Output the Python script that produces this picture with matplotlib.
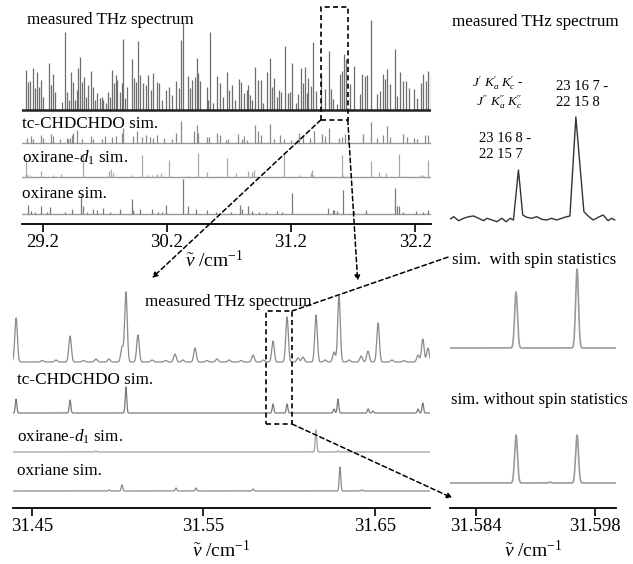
import numpy as np
import matplotlib
matplotlib.use("Agg")
import matplotlib.pyplot as plt
from matplotlib.patches import Rectangle, ConnectionPatch

plt.rcParams['font.family'] = ['Liberation Serif', 'DejaVu Serif']
plt.rcParams['mathtext.fontset'] = 'custom'
plt.rcParams['mathtext.rm'] = 'Liberation Serif'
plt.rcParams['mathtext.it'] = 'Liberation Serif:italic'
plt.rcParams['mathtext.bf'] = 'Liberation Serif:bold'

# ---------------- overview 29.0 - 32.3 cm-1 (stick spectra) ----------------
meas_pos = [29.063, 29.081, 29.095, 29.117, 29.135, 29.149, 29.170, 29.184, 29.203, 29.251,
            29.262, 29.278, 29.294, 29.351, 29.377, 29.396, 29.410, 29.423, 29.439, 29.458,
            29.472, 29.485, 29.501, 29.515, 29.531, 29.547, 29.565, 29.585, 29.601, 29.619,
            29.638, 29.660, 29.676, 29.686, 29.706, 29.727, 29.740, 29.759, 29.773, 29.786,
            29.799, 29.821, 29.835, 29.843, 29.861, 29.880, 29.915, 29.934, 29.950, 29.969,
            29.982, 30.009, 30.031, 30.049, 30.071, 30.090, 30.117, 30.135, 30.162, 30.190,
            30.216, 30.238, 30.270, 30.297, 30.313, 30.329, 30.367, 30.385, 30.399, 30.426,
            30.440, 30.452, 30.466, 30.520, 30.533, 30.549, 30.573, 30.601, 30.627, 30.654,
            30.684, 30.700, 30.727, 30.748, 30.781, 30.797, 30.823, 30.843, 30.856, 30.872,
            30.888, 30.910, 30.936, 30.958, 30.977, 31.004, 31.028, 31.044, 31.065, 31.085,
            31.103, 31.119, 31.152, 31.178, 31.192, 31.206, 31.240, 31.259, 31.278, 31.294,
            31.313, 31.331, 31.340, 31.359, 31.380, 31.402, 31.440, 31.474, 31.506, 31.520,
            31.541, 31.573, 31.595, 31.609, 31.627, 31.644, 31.676, 31.711, 31.756, 31.775,
            31.797, 31.815, 31.843, 31.896, 31.918, 31.944, 31.958, 31.977, 31.998, 32.039,
            32.057, 32.079, 32.106, 32.127, 32.154, 32.192, 32.218, 32.246, 32.262, 32.289,
            32.307, 32.327]
meas_int = [40, 28, 29, 42, 22, 38, 23, 30, 13, 47,
            25, 36, 18, 8, 78, 18, 10, 38, 28, 10,
            20, 42, 53, 28, 33, 13, 25, 39, 23, 10,
            17, 12, 13, 10, 7, 18, 13, 40, 27, 35,
            30, 18, 27, 71, 12, 23, 51, 32, 28, 69,
            35, 27, 25, 35, 20, 37, 28, 27, 10, 20,
            23, 15, 29, 22, 70, 87, 34, 22, 30, 33,
            52, 37, 29, 23, 10, 78, 7, 34, 27, 13,
            38, 20, 25, 10, 31, 28, 17, 20, 25, 15,
            10, 43, 30, 30, 7, 38, 52, 23, 32, 13,
            20, 18, 64, 17, 18, 47, 7, 16, 42, 27,
            43, 17, 32, 24, 68, 19, 36, 21, 59, 21,
            11, 6, 36, 39, 56, 51, 26, 44, 16, 36,
            34, 35, 90, 16, 19, 36, 31, 41, 26, 61,
            14, 38, 29, 29, 22, 21, 12, 27, 36, 29,
            39, 37]

tc_pos = [29.069, 29.101, 29.122, 29.181, 29.203, 29.262, 29.278, 29.337, 29.391, 29.404,
          29.418, 29.431, 29.445, 29.477, 29.512, 29.585, 29.601, 29.673, 29.700, 29.754,
          29.789, 29.835, 29.848, 29.928, 29.956, 29.996, 30.031, 30.063, 30.090, 30.117,
          30.178, 30.238, 30.270, 30.313, 30.420, 30.440, 30.452, 30.520, 30.539, 30.601,
          30.627, 30.673, 30.689, 30.775, 30.807, 30.823, 30.843, 30.910, 30.936, 30.958,
          31.031, 31.065, 31.111, 31.146, 31.200, 31.267, 31.299, 31.353, 31.385, 31.448,
          31.474, 31.509, 31.590, 31.609, 31.635, 31.662, 31.778, 31.843, 31.896, 31.944,
          31.977, 31.998, 32.106, 32.133, 32.192, 32.214, 32.281, 32.307]
tc_int = [5, 7, 4, 8, 5, 9, 7, 4, 5, 4,
          5, 8, 10, 13, 4, 7, 4, 4, 7, 6,
          7, 10, 15, 7, 12, 6, 8, 6, 5, 8,
          5, 4, 10, 22, 12, 18, 10, 6, 6, 10,
          8, 3, 4, 9, 4, 7, 3, 18, 12, 8,
          19, 4, 8, 4, 3, 10, 7, 5, 12, 9,
          7, 15, 5, 6, 9, 4, 9, 21, 5, 8,
          17, 6, 9, 6, 5, 4, 8, 8]

d1_pos = [29.063, 29.073, 29.095, 29.181, 29.283, 29.343, 29.525, 29.735, 29.746, 29.767,
          29.915, 29.996, 30.049, 30.077, 30.117, 30.152, 30.216, 30.367, 30.447, 30.525,
          30.614, 30.686, 30.756, 30.797, 30.856, 30.888, 30.899, 31.146, 31.273, 31.359,
          31.367, 31.375, 31.609, 31.622, 31.843, 31.912, 31.966, 32.073, 32.119, 32.246,
          32.267, 32.307]
d1_int = [19, 3, 2, 6, 2, 3, 22, 6, 8, 4,
          2, 22, 2, 2, 3, 4, 17, 1.3, 24, 5,
          1.3, 19, 4, 1.3, 6, 5, 7, 23, 2, 4,
          7, 2, 22, 2, 16, 5, 4, 23, 1.3, 2,
          2, 17]

ox_pos = [29.081, 29.101, 29.135, 29.181, 29.230, 29.256, 29.377, 29.431, 29.504, 29.520,
          29.552, 29.601, 29.638, 29.681, 29.740, 29.821, 29.915, 29.928, 29.982, 30.077,
          30.130, 30.157, 30.190, 30.331, 30.372, 30.431, 30.520, 30.593, 30.716, 30.789,
          30.807, 30.851, 30.888, 30.942, 30.998, 31.085, 31.125, 31.212, 31.501, 31.536,
          31.549, 31.573, 31.622, 31.708, 31.805, 32.039, 32.057, 32.073, 32.106, 32.208,
          32.262, 32.307]
ox_int = [9, 3, 2, 8, 2, 7, 1.3, 5, 19, 8,
          2, 5, 4, 6, 2, 5, 15, 4, 5, 5,
          1.3, 2, 9, 35, 8, 5, 4, 2, 2, 9,
          5, 8, 3, 1.3, 1.3, 3, 1.3, 21, 6, 4,
          4, 3, 24, 3, 4, 26, 8, 8, 2, 3,
          1.3, 4]

# ---------------- zoom 31.44 - 31.68 cm-1 ----------------
zm_meas_pos = [31.4407, 31.4560, 31.4640, 31.4722, 31.4800, 31.4873, 31.4949, 31.5025, 31.5048,
               31.5118, 31.5200, 31.5280, 31.5334, 31.5380, 31.5451, 31.5520, 31.5579, 31.5650,
               31.5720, 31.5790, 31.5850, 31.5906, 31.5988, 31.6052, 31.6081, 31.6157, 31.6210,
               31.6262, 31.6291, 31.6350, 31.6420, 31.6460, 31.6519, 31.6600, 31.6670, 31.6752,
               31.6780, 31.6810]
zm_meas_int = [44, 1.5, 2, 26, 1.5, 3, 3, 15, 70,
               27, 2, 1.5, 8, 2, 14, 1.5, 3, 2,
               1.5, 7, 2, 21, 45, 4, 5, 47, 2,
               10, 66, 2, 6, 11, 39, 2, 1.5, 7,
               23, 14]
zm_tc_pos = [31.4407, 31.4722, 31.5048, 31.5906, 31.5988, 31.6262, 31.6285, 31.6461, 31.6489,
             31.6752, 31.6780]
zm_tc_int = [14, 13, 26, 9, 9, 4, 14, 4, 2, 4, 10]
zm_d1_pos = [31.4872, 31.6157, 31.6285]
zm_d1_int = [1, 22, 1]
zm_ox_pos = [31.4949, 31.5025, 31.5340, 31.5457, 31.5790, 31.6297, 31.6426]
zm_ox_int = [1, 6, 3, 3, 2, 24, 1]

# ---------------- detail 31.581 - 31.600 cm-1 ----------------
det_meas_x = [31.58074, 31.58133, 31.58192, 31.58251, 31.58310, 31.58369, 31.58428, 31.58486,
              31.58526, 31.58585, 31.58644, 31.58702, 31.58753, 31.58800, 31.58839, 31.58898,
              31.58949, 31.58996, 31.59055, 31.59114, 31.59173, 31.59232, 31.59291, 31.59349,
              31.59408, 31.59467, 31.59506, 31.59576, 31.59671, 31.59721, 31.59780, 31.59839,
              31.59898, 31.59957, 31.59996, 31.60035]
det_meas_y = [-2, 1.3, -2.7, -0.3, 1.3, 2, -0.3, -2.7,
              -0.3, -2, -3.7, -0.3, -3.7, -0.3, -2, 48,
              3, 0.7, -0.3, 1.3, -1.3, -2, -0.3, -2,
              -0.3, 1.3, 2, 101, 6.3, 2, -2, 0.7,
              3, -2.7, -0.3, -2]
det_pos = [31.5887, 31.5927, 31.5959]
det_spin = [56, 0, 79]
det_nospin = [48, 0.8, 48]

overview_ticks = [29.2, 30.2, 31.2, 32.2]
zoom_ticks = [31.45, 31.55, 31.65]
detail_ticks = [31.584, 31.598]

W, H = 633, 564
fig = plt.figure(figsize=(W / 100, H / 100), dpi=100)


def px_axes(x0, y0, x1, y1):
    return fig.add_axes([x0 / W, 1 - y1 / H, (x1 - x0) / W, (y1 - y0) / H])


def ftext(x, y, s, **kw):
    kw.setdefault('fontsize', 12.3)
    kw.setdefault('va', 'center')
    kw.setdefault('ha', 'left')
    fig.text(x / W, 1 - y / H, s, **kw)


def style(ax, ticks, labels):
    for sp in ['top', 'left', 'right']:
        ax.spines[sp].set_visible(False)
    ax.spines['bottom'].set_linewidth(1.3)
    ax.set_yticks([])
    ax.set_xticks(ticks)
    ax.set_xticklabels(labels)
    ax.tick_params(axis='x', direction='out', length=6, width=1.2, labelsize=13.5, pad=1)
    ax.patch.set_alpha(0)


def profile(x, pos, inten, sig):
    x = np.asarray(x)[:, None]
    return (np.asarray(inten)[None, :] *
            np.exp(-(x - np.asarray(pos)[None, :]) ** 2 / (2 * sig ** 2))).sum(axis=1)


xlabel = r'$\tilde{\nu}$ /cm$^{-1}$'

# ---------------- overview axes ----------------
ax1 = px_axes(22, 5, 431, 224)
ax1.set_xlim(29.031, 32.329)
ax1.set_ylim(0, 219)
style(ax1, overview_ticks, [f'{t:.1f}' for t in overview_ticks])
b_meas, b_tc, b_d1, b_ox = 114, 81.5, 46.7, 10.3
ax1.vlines(meas_pos, b_meas, b_meas + np.array(meas_int), color='#6e6e6e', lw=0.9)
ax1.axhline(b_meas, color='#222222', lw=1.8)
for base, pos, inten, col in [(b_tc, tc_pos, tc_int, '#8a8a8a'),
                              (b_d1, d1_pos, d1_int, '#a8a8a8'),
                              (b_ox, ox_pos, ox_int, '#7a7a7a')]:
    ax1.axhline(base, color='#9a9a9a', lw=1.0)
    ax1.vlines(pos, base, base + np.array(inten), color=col, lw=0.9)
ax1.set_xlabel(xlabel, fontsize=14, labelpad=2)
ax1.xaxis.set_label_coords(0.47, -0.12)

# ---------------- zoom axes ----------------
ax2 = px_axes(13, 285, 430, 508)
zlim = (31.4389, 31.6822)
ax2.set_xlim(*zlim)
ax2.set_ylim(0, 223)
style(ax2, zoom_ticks, [f'{t:.2f}' for t in zoom_ticks])
xz = np.linspace(zlim[0], zlim[1], 4000)
z_meas, z_tc, z_d1, z_ox = 146, 95, 56, 17
ax2.plot(xz, z_meas + profile(xz, zm_meas_pos, zm_meas_int, 0.00075), color='#8a8a8a', lw=0.9)
ax2.plot(xz, z_tc + profile(xz, zm_tc_pos, zm_tc_int, 0.00045), color='#7a7a7a', lw=0.9)
ax2.plot(xz, z_d1 + profile(xz, zm_d1_pos, zm_d1_int, 0.00045), color='#a8a8a8', lw=1.0)
ax2.plot(xz, z_ox + profile(xz, zm_ox_pos, zm_ox_int, 0.00045), color='#8a8a8a', lw=0.9)
ax2.set_xlabel(xlabel, fontsize=14, labelpad=4)

# ---------------- detail axes ----------------
ax3 = px_axes(450, 5, 616, 508)
dlim = (31.5809, 31.6005)
ax3.set_xlim(*dlim)
ax3.set_ylim(0, 503)
style(ax3, detail_ticks, [f'{t:.3f}' for t in detail_ticks])
xd = np.linspace(dlim[0], dlim[1], 1500)
d_meas, d_spin, d_nospin = 290, 160, 25
ax3.plot(det_meas_x, d_meas + np.array(det_meas_y), color='#333333', lw=1.0)
ax3.plot(xd, d_spin + profile(xd, det_pos, det_spin, 0.00017), color='#9a9a9a', lw=1.2)
ax3.plot(xd, d_nospin + profile(xd, det_pos, det_nospin, 0.00017), color='#9a9a9a', lw=1.2)
ax3.set_xlabel(xlabel, fontsize=14, labelpad=4)

# ---------------- texts ----------------
ftext(27, 20, 'measured THz spectrum')
ftext(22, 124, 'tc-CHDCHDO sim.')
ftext(22, 158, r'oxirane-$d_1$ sim.')
ftext(22, 194, 'oxirane sim.')
ftext(145, 302, 'measured THz spectrum')
ftext(17, 380, 'tc-CHDCHDO sim.')
ftext(17, 437, r'oxirane-$d_1$ sim.')
ftext(17, 471, 'oxriane sim.')
ftext(452, 22, 'measured THz spectrum')
ftext(524, 83, r"$J'\ K_a'\ K_c'$ -", fontsize=9.5, ha='right')
ftext(523, 102, r"$J''\ K_a''\ K_c''$", fontsize=9.5, ha='right')
ftext(556, 86, '23 16 7 -', fontsize=10.5)
ftext(556, 102, '22 15 8', fontsize=10.5)
ftext(479, 139, '23 16 8 -', fontsize=10.5)
ftext(479, 155, '22 15 7', fontsize=10.5)
ftext(452, 260, 'sim.  with spin statistics')
ftext(451, 400, 'sim. without spin statistics', fontsize=12.0)

# ---------------- zoom boxes and connectors ----------------
dash = (0, (3, 2))
box1_x = (31.440, 31.658)
box1_y = (104, 217)
ax1.add_patch(Rectangle((box1_x[0], box1_y[0]), box1_x[1] - box1_x[0], box1_y[1] - box1_y[0],
                        fill=False, ls=dash, lw=1.2, ec='black', clip_on=False, zorder=5))
box2_x = (31.5865, 31.6017)
box2_y = (84, 197)
ax2.add_patch(Rectangle((box2_x[0], box2_y[0]), box2_x[1] - box2_x[0], box2_y[1] - box2_y[0],
                        fill=False, ls=dash, lw=1.2, ec='black', clip_on=False, zorder=5))


def connect(axA, pA, axB, pB, arrow=True):
    cp = ConnectionPatch(xyA=pA, coordsA=axA.transData, xyB=pB, coordsB=axB.transData,
                         arrowstyle='-|>' if arrow else '-', mutation_scale=8,
                         ls=dash, lw=1.1, color='black', fc='black', zorder=6)
    fig.add_artist(cp)


connect(ax1, (box1_x[0], box1_y[0]), ax2, (31.520, 230))
connect(ax1, (box1_x[1], box1_y[0]), ax2, (31.640, 227))
connect(ax2, (box2_x[1], box2_y[1]), ax3, (31.5807, 251), arrow=False)
connect(ax2, (box2_x[1], box2_y[0]), ax3, (31.5812, 10))

fig.savefig('out.png', dpi=100)
